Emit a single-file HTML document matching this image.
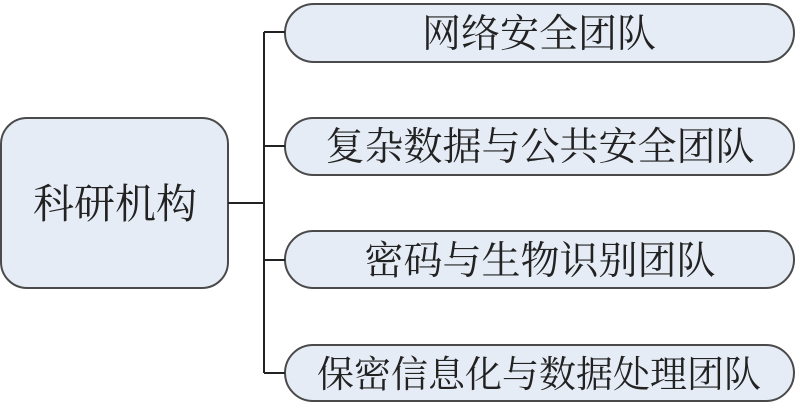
<!DOCTYPE html>
<html><head><meta charset="utf-8"><style>
body{margin:0;background:#fff;width:808px;height:403px;overflow:hidden}
</style></head><body>
<svg width="808" height="403" xmlns="http://www.w3.org/2000/svg">
<g fill="#e6ecf6" stroke="#4a4a4a" stroke-width="2">
<rect x="1" y="118" width="227" height="170" rx="26"/>
<rect x="285" y="4" width="509" height="58" rx="29"/>
<rect x="285" y="118" width="509" height="57" rx="28.5"/>
<rect x="285" y="231" width="509" height="57" rx="28.5"/>
<rect x="285" y="345" width="509" height="56" rx="28"/>
</g>
<g stroke="#222" stroke-width="2" fill="none">
<path d="M228 203H264M264 32V373M264 32H285M264 146H285M264 260H285M264 373H285"/>
</g>
<g font-family="'Liberation Serif','Noto Serif CJK SC',serif" fill="#222" text-anchor="middle">
<text x="115" y="218" font-size="41">科研机构</text>
<text x="539" y="47" font-size="39">网络安全团队</text>
<text x="540" y="160" font-size="39">复杂数据与公共安全团队</text>
<text x="540" y="274" font-size="39">密码与生物识别团队</text>
<text x="539" y="387" font-size="37">保密信息化与数据处理团队</text>
</g>
</svg>
</body></html>
